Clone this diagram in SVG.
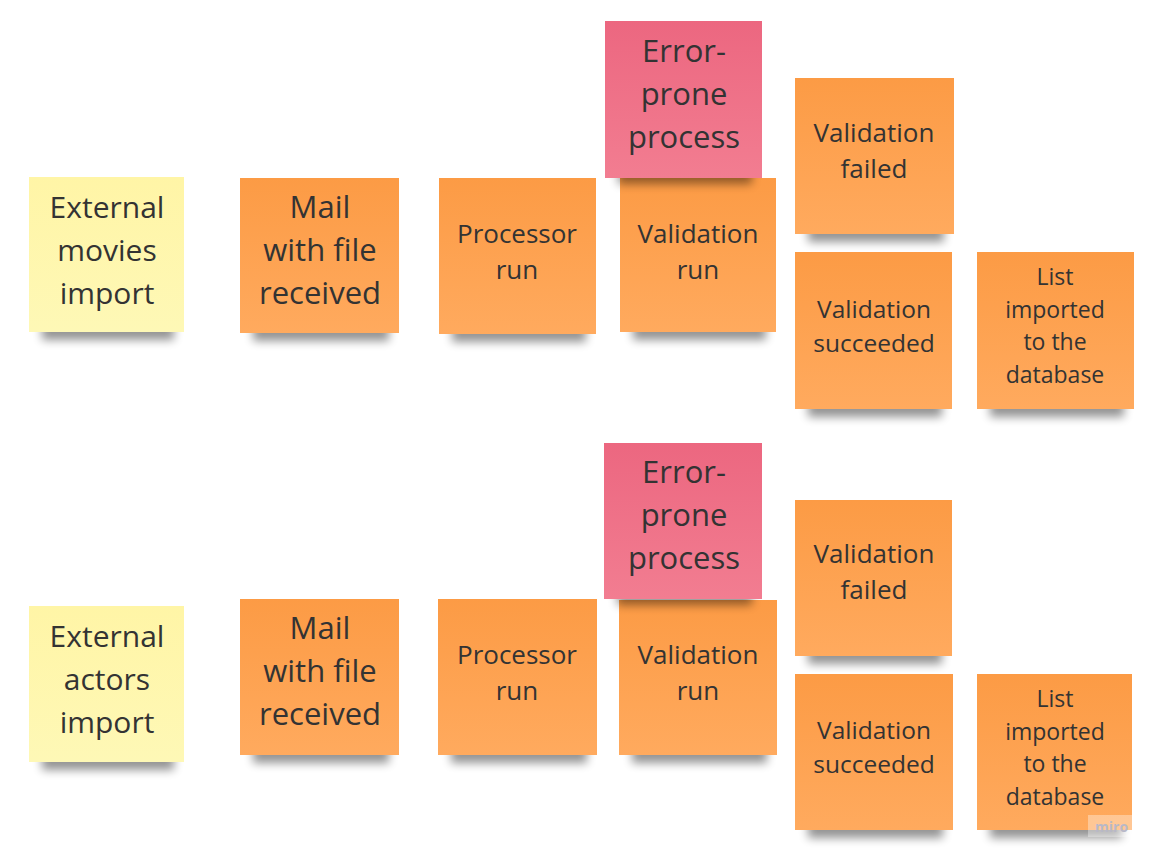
<svg xmlns="http://www.w3.org/2000/svg" width="1160" height="861" viewBox="0 0 1160 861">
<defs>
<linearGradient id="gO" x1="0" y1="0" x2="0" y2="1"><stop offset="0" stop-color="#fc9b45"/><stop offset="1" stop-color="#ffaa5e"/></linearGradient>
<linearGradient id="gP" x1="0" y1="0" x2="0" y2="1"><stop offset="0" stop-color="#ec6780"/><stop offset="1" stop-color="#f27d91"/></linearGradient>
<linearGradient id="gY" x1="0" y1="0" x2="0" y2="1"><stop offset="0" stop-color="#fff5a6"/><stop offset="1" stop-color="#fef8b6"/></linearGradient>
<filter id="sh" x="-20%" y="-100%" width="140%" height="300%"><feGaussianBlur stdDeviation="5"/></filter>
</defs>
<style>
.shadow{fill:#000;opacity:0.42;filter:url(#sh)}
.o{fill:url(#gO)}
.p{fill:url(#gP)}
.y{fill:url(#gY)}
text{font-family:"Open Sans","Noto Sans","Liberation Sans",sans-serif;fill:#333;text-anchor:middle}
.t31{font-size:31px}
.t30{font-size:30px}
.t26{font-size:26px}
.t25{font-size:24.5px}
.t23{font-size:23px}
.wm{font-family:"Open Sans","Liberation Sans",sans-serif;font-size:14px;fill:#b8b8c8;font-weight:bold;text-anchor:start}
</style>
<rect width="1160" height="861" fill="#ffffff"/>

<g id="n1-external-movies">
<rect class="shadow" x="42" y="322" width="132" height="18"/>
<rect class="y" x="29" y="177" width="155" height="155"/>
<text class="t30" x="107" y="218">External</text>
<text class="t30" x="107" y="261">movies</text>
<text class="t30" x="107" y="304">import</text>
</g>
<g id="n1-mail">
<rect class="shadow" x="253" y="323" width="136" height="18"/>
<rect class="o" x="240" y="178" width="159" height="155"/>
<text class="t31" x="320" y="218">Mail</text>
<text class="t31" x="320" y="261">with file</text>
<text class="t31" x="320" y="304">received</text>
</g>
<g id="n1-processor">
<rect class="shadow" x="452" y="324" width="134" height="18"/>
<rect class="o" x="439" y="178" width="157" height="156"/>
<text class="t26" x="517" y="243">Processor</text>
<text class="t26" x="517" y="279">run</text>
</g>
<g id="n1-validation-run">
<rect class="shadow" x="633" y="322" width="133" height="18"/>
<rect class="o" x="620" y="178" width="156" height="154"/>
<text class="t26" x="698" y="243">Validation</text>
<text class="t26" x="698" y="279">run</text>
</g>
<g id="n1-error">
<rect class="shadow" x="618" y="168" width="134" height="16"/>
<rect class="p" x="605" y="21" width="157" height="157"/>
<text class="t31" x="684" y="62">Error-</text>
<text class="t31" x="684" y="105">prone</text>
<text class="t31" x="684" y="148">process</text>
</g>
<g id="n1-validation-failed">
<rect class="shadow" x="808" y="224" width="136" height="18"/>
<rect class="o" x="795" y="78" width="159" height="156"/>
<text class="t26" x="874" y="142">Validation</text>
<text class="t26" x="874" y="178">failed</text>
</g>
<g id="n1-validation-succeeded">
<rect class="shadow" x="808" y="399" width="134" height="18"/>
<rect class="o" x="795" y="252" width="157" height="157"/>
<text class="t25" x="874" y="318">Validation</text>
<text class="t25" x="874" y="352">succeeded</text>
</g>
<g id="n1-list">
<rect class="shadow" x="990" y="399" width="134" height="18"/>
<rect class="o" x="977" y="252" width="157" height="157"/>
<text class="t23" x="1055" y="285">List</text>
<text class="t23" x="1055" y="318">imported</text>
<text class="t23" x="1055" y="350">to the</text>
<text class="t23" x="1055" y="383">database</text>
</g>

<g id="n2-external-actors">
<rect class="shadow" x="42" y="752" width="132" height="18"/>
<rect class="y" x="29" y="606" width="155" height="156"/>
<text class="t30" x="107" y="647">External</text>
<text class="t30" x="107" y="690">actors</text>
<text class="t30" x="107" y="733">import</text>
</g>
<g id="n2-mail">
<rect class="shadow" x="253" y="745" width="136" height="18"/>
<rect class="o" x="240" y="599" width="159" height="156"/>
<text class="t31" x="320" y="639">Mail</text>
<text class="t31" x="320" y="682">with file</text>
<text class="t31" x="320" y="725">received</text>
</g>
<g id="n2-processor">
<rect class="shadow" x="451" y="745" width="136" height="18"/>
<rect class="o" x="438" y="599" width="159" height="156"/>
<text class="t26" x="517" y="664">Processor</text>
<text class="t26" x="517" y="700">run</text>
</g>
<g id="n2-validation-run">
<rect class="shadow" x="632" y="745" width="135" height="18"/>
<rect class="o" x="619" y="600" width="158" height="155"/>
<text class="t26" x="698" y="664">Validation</text>
<text class="t26" x="698" y="700">run</text>
</g>
<g id="n2-error">
<rect class="shadow" x="617" y="589" width="135" height="16"/>
<rect class="p" x="604" y="443" width="158" height="156"/>
<text class="t31" x="684" y="483">Error-</text>
<text class="t31" x="684" y="526">prone</text>
<text class="t31" x="684" y="569">process</text>
</g>
<g id="n2-validation-failed">
<rect class="shadow" x="808" y="646" width="134" height="18"/>
<rect class="o" x="795" y="500" width="157" height="156"/>
<text class="t26" x="874" y="563">Validation</text>
<text class="t26" x="874" y="599">failed</text>
</g>
<g id="n2-validation-succeeded">
<rect class="shadow" x="808" y="820" width="135" height="18"/>
<rect class="o" x="795" y="674" width="158" height="156"/>
<text class="t25" x="874" y="739">Validation</text>
<text class="t25" x="874" y="773">succeeded</text>
</g>
<g id="n2-list">
<rect class="shadow" x="990" y="820" width="132" height="18"/>
<rect class="o" x="977" y="674" width="155" height="156"/>
<text class="t23" x="1055" y="707">List</text>
<text class="t23" x="1055" y="740">imported</text>
<text class="t23" x="1055" y="772">to the</text>
<text class="t23" x="1055" y="805">database</text>
</g>

<g id="connectors"></g>

<rect x="1088" y="815" width="50" height="22" fill="#ffffff" opacity="0.35"/>
<text class="wm" x="1095" y="832">miro</text>
</svg>
